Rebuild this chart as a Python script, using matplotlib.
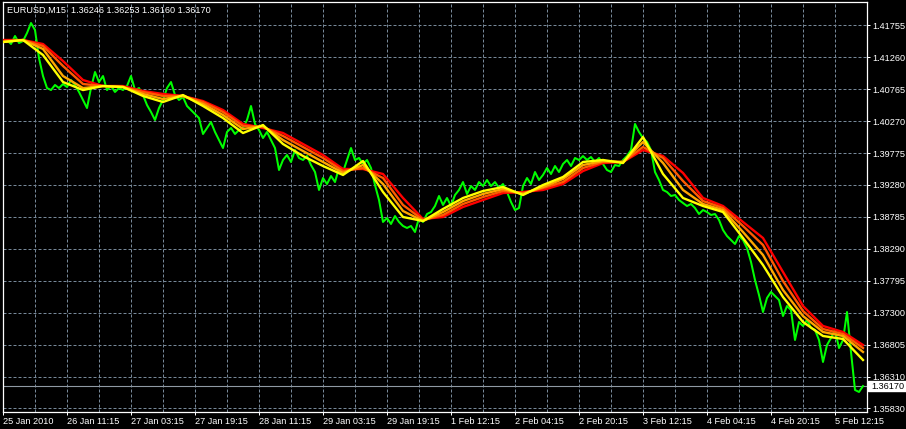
import matplotlib
matplotlib.use("Agg")
import matplotlib.pyplot as plt
import matplotlib.transforms as mtransforms
from matplotlib.patches import Rectangle
import numpy as np

plt.rcParams['font.family'] = ['Liberation Sans', 'DejaVu Sans']

# ---------------- data ----------------
symbol_title = "EURUSD,M15  1.36246 1.36253 1.36160 1.36170"
last_price = 1.36170

# close prices, one reading every 4 bars (M15 bars)
close_step = 4
close_prices = [
    1.41492, 1.41523, 1.41461, 1.41585, 1.41477, 1.41507, 1.41631, 1.41786, 1.41678, 1.41244,
    1.40966, 1.40780, 1.40749, 1.40827, 1.40780, 1.40842, 1.40796, 1.40904, 1.40827, 1.40719,
    1.40595, 1.40471, 1.40780, 1.41028, 1.40873, 1.40966, 1.40749, 1.40811, 1.40719, 1.40780,
    1.40749, 1.40811, 1.40966, 1.40749, 1.40780, 1.40672, 1.40517, 1.40409, 1.40285, 1.40471,
    1.40595, 1.40780, 1.40873, 1.40672, 1.40595, 1.40641, 1.40502, 1.40440, 1.40378, 1.40316,
    1.40069, 1.40162, 1.40254, 1.40100, 1.39976, 1.39852, 1.40100, 1.40162, 1.40069, 1.40131,
    1.40162, 1.40285, 1.40502, 1.40224, 1.40131, 1.40007, 1.40100, 1.39976, 1.39852, 1.39512,
    1.39667, 1.39744, 1.39636, 1.39821, 1.39698, 1.39667, 1.39728, 1.39589, 1.39481, 1.39203,
    1.39388, 1.39295, 1.39419, 1.39326, 1.39543, 1.39481, 1.39667, 1.39852, 1.39667, 1.39698,
    1.39605, 1.39667, 1.39543, 1.39280, 1.39048, 1.38708, 1.38769, 1.38677, 1.38800, 1.38708,
    1.38646, 1.38615, 1.38646, 1.38553, 1.38769, 1.38708, 1.38831, 1.38862, 1.38955, 1.39110,
    1.38971, 1.39079, 1.38955, 1.39125, 1.39203, 1.39326, 1.39141, 1.39264, 1.39203, 1.39326,
    1.39264, 1.39357, 1.39264, 1.39326, 1.39234, 1.39295, 1.39172, 1.39017, 1.38893, 1.38924,
    1.39264, 1.39388, 1.39295, 1.39481, 1.39357, 1.39435, 1.39543, 1.39450, 1.39574, 1.39481,
    1.39605, 1.39667, 1.39574, 1.39698, 1.39667, 1.39728, 1.39667, 1.39713, 1.39636, 1.39698,
    1.39605, 1.39512, 1.39481, 1.39589, 1.39574, 1.39667, 1.39728, 1.39821, 1.40224, 1.40100,
    1.40007, 1.39945, 1.39821, 1.39481, 1.39357, 1.39203, 1.39172, 1.39110, 1.39125, 1.39048,
    1.39002, 1.38955, 1.38986, 1.38924, 1.38831, 1.38893, 1.38862, 1.38816, 1.38831, 1.38739,
    1.38584, 1.38491, 1.38429, 1.38367, 1.38491, 1.38429, 1.38305, 1.38089, 1.37810, 1.37578,
    1.37315, 1.37532, 1.37625, 1.37563, 1.37501, 1.37253, 1.37408, 1.37346, 1.36882, 1.37161,
    1.37099, 1.37192, 1.37068, 1.37037, 1.36882, 1.36542, 1.36805, 1.36913, 1.37037, 1.36758,
    1.36882, 1.37315, 1.36697, 1.36109, 1.36078, 1.36170,
]

# moving averages, one reading every 20 bars
ma_step = 20
ma_yellow = [
    1.41492, 1.41523, 1.41291, 1.40873, 1.40749, 1.40811, 1.40796, 1.40657, 1.40564, 1.40672,
    1.40502, 1.40316, 1.40084, 1.40208, 1.39914, 1.39728, 1.39574, 1.39435, 1.39651, 1.39172,
    1.38785, 1.38723, 1.38909, 1.39079, 1.39187, 1.39249, 1.39125, 1.39280, 1.39404, 1.39636,
    1.39667, 1.39620, 1.40022, 1.39450, 1.39079, 1.38955, 1.38862, 1.38460, 1.38042, 1.37547,
    1.37161, 1.36944, 1.36898, 1.36573,
]
ma_orange = [
    1.41492, 1.41523, 1.41384, 1.40966, 1.40780, 1.40811, 1.40796, 1.40688, 1.40610, 1.40657,
    1.40533, 1.40363, 1.40146, 1.40193, 1.39976, 1.39806, 1.39636, 1.39466, 1.39589, 1.39295,
    1.38878, 1.38723, 1.38862, 1.39032, 1.39141, 1.39218, 1.39141, 1.39249, 1.39373, 1.39589,
    1.39651, 1.39636, 1.39945, 1.39620, 1.39203, 1.38986, 1.38893, 1.38553, 1.38197, 1.37656,
    1.37253, 1.37006, 1.36944, 1.36697,
]
ma_orangered = [
    1.41507, 1.41523, 1.41430, 1.41121, 1.40842, 1.40811, 1.40796, 1.40719, 1.40657, 1.40657,
    1.40564, 1.40409, 1.40193, 1.40177, 1.40038, 1.39868, 1.39698, 1.39496, 1.39543, 1.39388,
    1.38971, 1.38739, 1.38816, 1.38986, 1.39094, 1.39187, 1.39156, 1.39234, 1.39326, 1.39543,
    1.39636, 1.39636, 1.39868, 1.39698, 1.39342, 1.39032, 1.38924, 1.38646, 1.38352, 1.37795,
    1.37331, 1.37052, 1.36975, 1.36758,
]
ma_red = [
    1.41523, 1.41523, 1.41461, 1.41198, 1.40904, 1.40811, 1.40811, 1.40734, 1.40688, 1.40657,
    1.40579, 1.40440, 1.40224, 1.40162, 1.40084, 1.39914, 1.39744, 1.39527, 1.39527, 1.39450,
    1.39079, 1.38754, 1.38785, 1.38940, 1.39048, 1.39156, 1.39172, 1.39203, 1.39295, 1.39496,
    1.39620, 1.39636, 1.39821, 1.39728, 1.39466, 1.39079, 1.38955, 1.38708, 1.38460, 1.37934,
    1.37408, 1.37099, 1.37006, 1.36805,
]

price_ticks = [1.41755, 1.41260, 1.40765, 1.40270, 1.39775, 1.39280, 1.38785,
               1.38290, 1.37795, 1.37300, 1.36805, 1.36310, 1.35830]
time_labels = ["25 Jan 2010", "26 Jan 11:15", "27 Jan 03:15", "27 Jan 19:15",
               "28 Jan 11:15", "29 Jan 03:15", "29 Jan 19:15", "1 Feb 12:15",
               "2 Feb 04:15", "2 Feb 20:15", "3 Feb 12:15", "4 Feb 04:15",
               "4 Feb 20:15", "5 Feb 12:15"]
time_label_step = 64
grid_step = 32

# ---------------- figure ----------------
W, H = 906, 429
fig = plt.figure(figsize=(W / 100, H / 100), dpi=100, facecolor='black')
ax = fig.add_axes([2.5 / W, (H - 411.5) / H, 864 / W, 409.5 / H])
ax.set_facecolor('black')
ax.set_xlim(-0.5, 863.5)
ax.set_ylim(1.35776, 1.42111)

grid_col = '#778899'
for p in price_ticks:
    ax.axhline(p, color=grid_col, lw=0.72, ls=(0, (3, 2)), zorder=1)
for b in range(0, 864, grid_step):
    ax.axvline(b, color=grid_col, lw=0.72, ls=(0, (3, 2)), zorder=1)

ax.axhline(last_price, color='#8f99a3', lw=0.8, zorder=2)

close_x = np.arange(len(close_prices)) * close_step
ma_x = np.arange(len(ma_yellow)) * ma_step

ax.plot(close_x, close_prices, color='#00ff00', lw=1.45, zorder=3)
ax.plot(ma_x, ma_red, color='#ff0000', lw=1.7, zorder=4)
ax.plot(ma_x, ma_orangered, color='#ff5a00', lw=1.7, zorder=5)
ax.plot(ma_x, ma_orange, color='#ffa500', lw=1.7, zorder=6)
ax.plot(ma_x, ma_yellow, color='#ffff00', lw=1.7, zorder=7)

# axes styling
for s in ax.spines.values():
    s.set_color('white')
    s.set_linewidth(0.9)

ax.yaxis.tick_right()
ax.set_yticks(price_ticks)
ax.set_yticklabels([f"{p:.5f}" for p in price_ticks])
ax.tick_params(axis='y', colors='white', length=2.3, width=0.72, pad=1.6,
               labelsize=6.6, labelcolor='white')

ax.set_xticks(np.arange(len(time_labels)) * time_label_step)
ax.set_xticklabels(time_labels)
for lab in ax.get_xticklabels():
    lab.set_horizontalalignment('left')
ax.tick_params(axis='x', colors='white', length=2.3, width=0.72, pad=1.8,
               labelsize=6.6, labelcolor='white')

# last price marker box
bt = mtransforms.blended_transform_factory(fig.transFigure, ax.transData)
ax_h = 0.06335 / 409.5  # data units per pixel
fig.patches.append(Rectangle((868 / W, last_price - 5 * ax_h), 38 / W, 10 * ax_h,
                             transform=bt, facecolor='white', edgecolor='white'))
fig.text(871.5 / W, last_price, f"{last_price:.5f}", transform=bt, color='black',
         fontsize=6.6, ha='left', va='center')

fig.text(7 / W, 1 - 10.7 / H, symbol_title, color='white', fontsize=6.6,
         ha='left', va='center')

fig.savefig('out.png', dpi=100, facecolor='black')
